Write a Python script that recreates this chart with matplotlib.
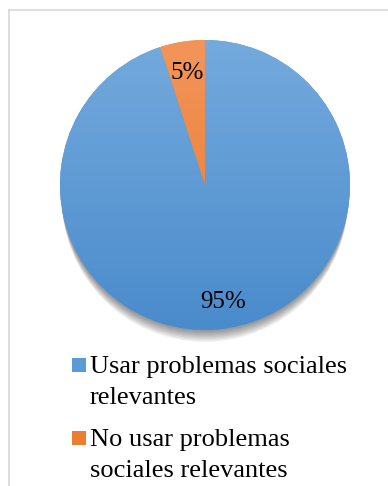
import numpy as np
import matplotlib.pyplot as plt
from matplotlib.colors import LinearSegmentedColormap
from matplotlib.patches import Rectangle, Circle
from matplotlib.lines import Line2D

plt.rcParams['font.family'] = ['Liberation Serif', 'DejaVu Serif']

labels = ['Usar problemas sociales\nrelevantes', 'No usar problemas\nsociales relevantes']
values = [95, 5]
colors = ['#5b9bd5', '#ed7d31']
top_colors = ['#74aadd', '#f3955a']
bottom_colors = ['#4a8bcc', '#e8782a']

W, H = 388, 486
fig = plt.figure(figsize=(W / 100, H / 100), dpi=100)
# pie centre ~ (205, 185) px, radius ~145 px
ax = fig.add_axes([(205 - 145) / W, 1 - (185 + 145) / H, 290 / W, 290 / H])

wedges, texts, autotexts = ax.pie(values, colors=colors, startangle=90, counterclock=False,
                                  autopct='%1.0f%%', pctdistance=0.8, radius=1.0,
                                  textprops={'fontsize': 18, 'color': 'black'})

# soft shadow under the pie
for i in range(8):
    sh = Circle((0, -0.012 * (i + 1)), 1.0 - 0.002 * i, facecolor='black', edgecolor='none',
                alpha=0.06, zorder=0, clip_on=False)
    ax.add_patch(sh)

# vertical gradient inside each slice
grad = np.linspace(0, 1, 256).reshape(-1, 1)
for w, c_top, c_bot in zip(wedges, top_colors, bottom_colors):
    w.set_zorder(1)
    cmap = LinearSegmentedColormap.from_list('g', [c_bot, c_top])
    im = ax.imshow(grad, extent=(-1, 1, -1, 1), origin='lower', cmap=cmap, zorder=2,
                   aspect='auto')
    im.set_clip_path(w)
for t in autotexts:
    t.set_zorder(10)
    x, y = t.get_position()
    t.set_position((x, y - 0.02))

ax.set_xlim(-1, 1)
ax.set_ylim(-1, 1)
ax.set_aspect('equal')
ax.axis('off')

# legend: square marker level with the first line of each label
entry_y = [365, 438]
for lab, c, y in zip(labels, colors, entry_y):
    fig.add_artist(Rectangle((72 / W, 1 - (y + 7) / H), 14 / W, 14 / H,
                             facecolor=c, edgecolor='none', transform=fig.transFigure))
    fig.text(90 / W, 1 - (y - 9) / H, lab, fontsize=19, va='top', ha='left',
             linespacing=1.52, color='black')

# light chart frame
fig.add_artist(Line2D([9 / W, 9 / W], [0, 1 - 10 / H], color='#d9d9d9', lw=1.2))
fig.add_artist(Line2D([9 / W, 1], [1 - 10 / H, 1 - 10 / H], color='#d9d9d9', lw=1.2))

fig.savefig('out.png', dpi=100)
